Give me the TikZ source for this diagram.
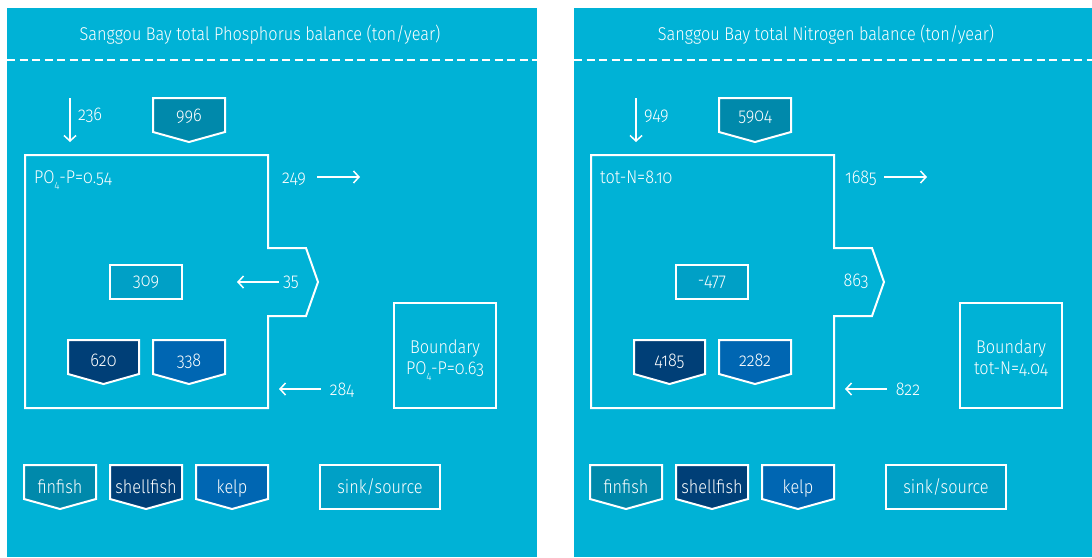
\documentclass[tikz,border=0pt]{standalone}
\usepackage{fontspec}
\setmainfont{Fira Sans Light}[Numbers=OldStyle, FakeStretch=0.88]
\usetikzlibrary{arrows.meta}
\definecolor{bgc}{RGB}{0,178,214}
\definecolor{tealc}{RGB}{0,137,171}
\definecolor{midc}{RGB}{0,160,198}
\definecolor{navyc}{RGB}{0,63,119}
\definecolor{bluec}{RGB}{0,102,178}
\tikzset{
  txt/.style={text=white, font=\fontsize{18.5}{21}\selectfont, inner sep=0pt, anchor=base},
  flow/.style={draw=white, line width=1.5pt, -{Straight Barb[length=5.5pt,width=12pt]}},
  outline/.style={draw=white, line width=2pt},
  dashline/.style={draw=white, line width=1.6pt, dash pattern=on 8pt off 4.5pt},
}
% name, x1, x2, top, fill, baseline, text
\newcommand\chev[7]{%
  \path[outline, fill=#5] (#2,#4) -- (#3,#4) -- (#3,#4+34) -- ({(#2+#3)/2},#4+44) -- (#2,#4+34) -- cycle;
  \node[txt] (#1) at ({(#2+#3)/2},#6) {#7};}
\newcommand\sub[1]{\raisebox{-5pt}{\fontsize{11}{11}\selectfont #1}}
\begin{document}
\begin{tikzpicture}[x=1pt,y=-1pt]
\useasboundingbox (0,0) rectangle (1092,557);
\fill[white] (0,0) rectangle (1092,557);
\fill[bgc] (7,8) rectangle (537,557);
\fill[bgc] (574,8) rectangle (1092,557);
% ---------------- Panel 1 ----------------
\node[txt] (p1title) at (260,40) {Sanggou Bay total Phosphorus balance (ton/year)};
\coordinate (p1dl) at (7,60); \coordinate (p1dr) at (537,60);
\draw[dashline] (p1dl) -- (p1dr);
\coordinate (p1as) at (70,98); \coordinate (p1ae) at (70,142);
\draw[flow] (p1as) -- (p1ae);
\node[txt, anchor=base west] (p1l236) at (78,120) {236};
\chev{p1c996}{153}{225}{98}{tealc}{121}{996}
\draw[outline] (25,155) -- (268,155) -- (268,248) -- (306,248) -- (318,282) -- (306,316) -- (268,316) -- (268,408) -- (25,408) -- cycle;
\node[txt, anchor=base west] (p1conc) at (34,183) {PO\sub{4}-P=0.54};
\node[txt] (p1l249) at (294,183) {249};
\coordinate (p1bs) at (317,177); \coordinate (p1be) at (360,177);
\draw[flow] (p1bs) -- (p1be);
\node[outline, fill=midc, minimum width=72pt, minimum height=34pt, inner sep=0pt] (p1b309) at (146,282) {};
\node[txt] (p1t309) at (146,286) {309};
\coordinate (p1cs) at (279,282); \coordinate (p1ce) at (237,282);
\draw[flow] (p1cs) -- (p1ce);
\node[txt] (p1l35) at (291,286) {35};
\chev{p1c620}{68}{139}{340}{navyc}{366}{620}
\chev{p1c338}{153}{225}{340}{bluec}{366}{338}
\coordinate (p1ds) at (321,389); \coordinate (p1de) at (279,389);
\draw[flow] (p1ds) -- (p1de);
\node[txt] (p1l284) at (342,395) {284};
\node[outline, minimum width=102pt, minimum height=105pt, inner sep=0pt] (p1bound) at (445,355.5) {};
\node[txt] (p1bt1) at (445,353) {Boundary};
\node[txt] (p1bt2) at (445,374) {PO\sub{4}-P=0.63};
\chev{p1fin}{24}{96}{465}{tealc}{493}{finfish}
\chev{p1shell}{110}{182}{465}{navyc}{493}{shellfish}
\chev{p1kelp}{196}{268}{465}{bluec}{493}{kelp}
\node[outline, fill=midc, minimum width=120pt, minimum height=44pt, inner sep=0pt] (p1sink) at (380,487) {};
\node[txt] (p1tsink) at (380,493) {sink/source};
% ---------------- Panel 2 ----------------
\begin{scope}[xshift=566pt]
\node[txt] (p2title) at (260,40) {Sanggou Bay total Nitrogen balance (ton/year)};
\coordinate (p2dl) at (8,60); \coordinate (p2dr) at (526,60);
\draw[dashline] (p2dl) -- (p2dr);
\coordinate (p2as) at (70,98); \coordinate (p2ae) at (70,142);
\draw[flow] (p2as) -- (p2ae);
\node[txt, anchor=base west] (p2l949) at (78,120) {949};
\chev{p2c5904}{153}{225}{98}{tealc}{121}{5904}
\draw[outline] (25,155) -- (268,155) -- (268,248) -- (306,248) -- (318,282) -- (306,316) -- (268,316) -- (268,408) -- (25,408) -- cycle;
\node[txt, anchor=base west] (p2conc) at (34,183) {tot-N=8.10};
\node[txt] (p2l1685) at (295,183) {1685};
\coordinate (p2bs) at (318,177); \coordinate (p2be) at (361,177);
\draw[flow] (p2bs) -- (p2be);
\node[outline, fill=midc, minimum width=72pt, minimum height=34pt, inner sep=0pt] (p2b477) at (146,282) {};
\node[txt] (p2t477) at (146,286) {-477};
\node[txt] (p2l863) at (290,286) {863};
\chev{p2c4185}{68}{139}{340}{navyc}{366}{4185}
\chev{p2c2282}{153}{225}{340}{bluec}{366}{2282}
\coordinate (p2ds) at (321,389); \coordinate (p2de) at (279,389);
\draw[flow] (p2ds) -- (p2de);
\node[txt] (p2l822) at (342,395) {822};
\node[outline, minimum width=102pt, minimum height=105pt, inner sep=0pt] (p2bound) at (445,355.5) {};
\node[txt] (p2bt1) at (445,353) {Boundary};
\node[txt] (p2bt2) at (445,374) {tot-N=4.04};
\chev{p2fin}{24}{96}{465}{tealc}{493}{finfish}
\chev{p2shell}{110}{182}{465}{navyc}{493}{shellfish}
\chev{p2kelp}{196}{268}{465}{bluec}{493}{kelp}
\node[outline, fill=midc, minimum width=120pt, minimum height=44pt, inner sep=0pt] (p2sink) at (380,487) {};
\node[txt] (p2tsink) at (380,493) {sink/source};
\end{scope}
\end{tikzpicture}
\end{document}
